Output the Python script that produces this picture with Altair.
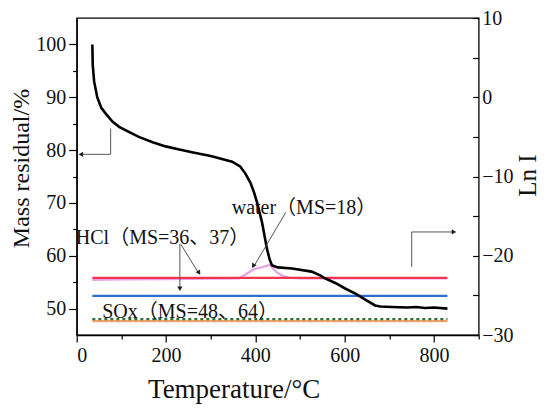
import altair as alt
import pandas as pd

# ---- data ----
temp_mass = [35, 36, 39, 46, 55, 65, 80, 95, 120, 139, 170, 199, 230, 258, 300, 348, 366,
             378, 389, 397, 404, 415, 426, 432, 437, 450, 482, 526, 545, 556, 580, 601,
             625, 646, 668, 680, 705, 740, 760, 780, 800, 830]
mass = [100, 96, 93, 90, 88, 86.9, 85.4, 84.4, 83.3, 82.5, 81.5, 80.7, 80.1, 79.6, 78.9,
        77.8, 76.9, 75.5, 73.8, 72, 70, 66.3, 61.3, 59.3, 58.2, 57.8, 57.6, 57.0, 56.3,
        55.7, 54.8, 53.8, 52.8, 51.7, 50.6, 50.4, 50.3, 50.2, 50.3, 50.1, 50.2, 50.0]

water_t = [35, 100, 200, 300, 363, 380, 396, 415, 433, 440, 448, 460, 474, 500, 830]
water_ln = [-23.05, -23.0, -22.95, -22.9, -22.85, -22.3, -21.7, -21.45, -21.15, -21.6,
            -22.1, -22.5, -22.75, -22.85, -22.85]

line_t = [35, 200, 400, 600, 830]
hcl36_ln = [-22.8, -22.8, -22.8, -22.8, -22.8]
hcl37_ln = [-25.07, -25.07, -25.07, -25.07, -25.07]
sox48_ln = [-28.0, -28.0, -28.0, -28.0, -28.0]
sox64_ln = [-28.25, -28.25, -28.25, -28.25, -28.25]

x_ticks = list(range(0, 901, 100))
left_ticks = list(range(50, 101, 5))
right_ticks = list(range(-30, 11, 5))

# annotation segments (T, mass units)
seg_x0 = [233, 231, 468, 76, 76, 750, 750]
seg_y0 = [62.2, 62.2, 68.2, 84.1, 79.2, 57.9, 64.5]
seg_x1 = [273, 231, 396, 76, 9, 750, 845]
seg_y1 = [56.7, 53.5, 57.9, 79.2, 79.2, 64.5, 64.5]

head_x = [273, 231, 396, 11, 843]
head_y = [56.9, 53.9, 58.2, 79.2, 64.5]
head_angle = [148, 180, 210, 270, 90]

label_text = ["HCl（MS=36、37）", "water（MS=18）", "SOx（MS=48、64）"]
label_x = [-2, 347, 57]
label_y = [63.4, 69.0, 49.4]

FONT = "Liberation Serif, Noto Sans CJK SC"
W, H = 402, 317
TOP = 10

mass_df = pd.DataFrame({"T": temp_mass, "mass": mass})
water_df = pd.DataFrame({"T": water_t, "ln": water_ln})
ms_df = pd.concat([
    pd.DataFrame({"T": line_t, "ln": hcl36_ln, "s": "HCl36"}),
    pd.DataFrame({"T": line_t, "ln": hcl37_ln, "s": "HCl37"}),
    pd.DataFrame({"T": line_t, "ln": sox64_ln, "s": "SOx64"}),
    pd.DataFrame({"T": line_t, "ln": sox48_ln, "s": "SOx48"}),
])
seg_df = pd.DataFrame({"x0": seg_x0, "y0": seg_y0, "x1": seg_x1, "y1": seg_y1})
head_df = pd.DataFrame({"x": head_x, "y": head_y, "a": head_angle})
lab_df = pd.DataFrame({"t": label_text, "x": label_x, "y": label_y})

common = dict(labelFont=FONT, titleFont=FONT, labelColor="#111111", titleColor="#111111",
              titleFontWeight="normal", grid=False, labelFontSize=20)

xscale = alt.Scale(domain=[0, 900], nice=False, zero=False)
xaxis = alt.Axis(values=x_ticks, title="Temperature/°C",
                 labelExpr="datum.value % 200 === 0 ? datum.label : ''",
                 tickSize={"condition": {"test": "datum.value % 200 === 0", "value": 7}, "value": 4},
                 labelPadding=3, titleFontSize=27,
                 titleX=157, titleY=62, titleBaseline="alphabetic", **common)
lscale = alt.Scale(domain=[45, 105], nice=False, zero=False)
laxis = alt.Axis(values=left_ticks, title="Mass residual/%",
                 labelExpr="datum.value % 10 === 0 ? datum.label : ''",
                 tickSize={"condition": {"test": "datum.value % 10 === 0", "value": 8}, "value": 4},
                 labelPadding=3, titleFontSize=24, titleAngle=270,
                 titleX=-55, titleY=150, titleAlign="center", titleBaseline="middle", **common)
rscale = alt.Scale(domain=[-30, 10], nice=False, zero=False)
raxis = alt.Axis(values=right_ticks, title="Ln I", orient="right",
                 labelExpr="datum.value % 10 === 0 ? datum.label : ''",
                 offset=-6, tickSize=6, domain=False, labelPadding=3,
                 titleFontSize=25, titleAngle=270,
                 titleX=55, titleY=157, titleAlign="center", titleBaseline="middle", **common)

X = alt.X("T:Q", scale=xscale, axis=xaxis)

mass_line = alt.Chart(mass_df).mark_line(color="black", strokeWidth=2.6).encode(
    x=X, y=alt.Y("mass:Q", scale=lscale, axis=laxis))

segs = alt.Chart(seg_df).mark_rule(color="#555555", strokeWidth=1).encode(
    x=alt.X("x0:Q", scale=xscale, axis=xaxis), x2="x1:Q",
    y=alt.Y("y0:Q", scale=lscale, axis=laxis), y2="y1:Q")
heads = alt.Chart(head_df).mark_point(shape="triangle", filled=True, color="#222222",
                                      size=28, opacity=1).encode(
    x=alt.X("x:Q", scale=xscale, axis=xaxis), y=alt.Y("y:Q", scale=lscale, axis=laxis),
    angle=alt.Angle("a:Q", scale=None))
labels = alt.Chart(lab_df).mark_text(align="left", baseline="middle", font=FONT,
                                     fontSize=20, color="#111111").encode(
    x=alt.X("x:Q", scale=xscale, axis=xaxis), y=alt.Y("y:Q", scale=lscale, axis=laxis),
    text="t:N")

left_layer = alt.layer(mass_line, segs, heads, labels)

water_line = alt.Chart(water_df).mark_line(color="#e7a0e6", strokeWidth=2.2).encode(
    x=X, y=alt.Y("ln:Q", scale=rscale, axis=raxis))
dom = ["HCl36", "HCl37", "SOx64", "SOx48"]
ms_lines = alt.Chart(ms_df).mark_line().encode(
    x=X, y=alt.Y("ln:Q", scale=rscale, axis=raxis),
    color=alt.Color("s:N", scale=alt.Scale(domain=dom,
                    range=["#f2354f", "#2a6fcc", "#f3a36c", "#2f6e35"]), legend=None),
    detail="s:N",
    strokeWidth=alt.StrokeWidth("s:N", scale=alt.Scale(domain=dom, range=[2.2, 2.4, 3.2, 1.0]),
                                legend=None),
    strokeDash=alt.StrokeDash("s:N", scale=alt.Scale(domain=dom,
                              range=[[1, 0], [1, 0], [1, 0], [3, 3]]), legend=None))
right_layer = alt.layer(water_line, ms_lines)

chart = alt.layer(right_layer, left_layer).resolve_scale(
    y="independent", color="independent", strokeWidth="independent", strokeDash="independent"
).properties(
    width=W, height=H,
    autosize=alt.AutoSizeParams(type="none"),
    padding={"left": 68.7, "top": TOP, "right": 63.3, "bottom": 397 - TOP - H}
).configure(font=FONT).configure_view(stroke="black", strokeWidth=1.3).configure_axis(
    labelFont=FONT, titleFont=FONT,
    domainColor="black", domainWidth=1.3, tickColor="black", tickWidth=1.2
)

chart.save("out.html", embed_options={"renderer": "svg", "actions": False})
